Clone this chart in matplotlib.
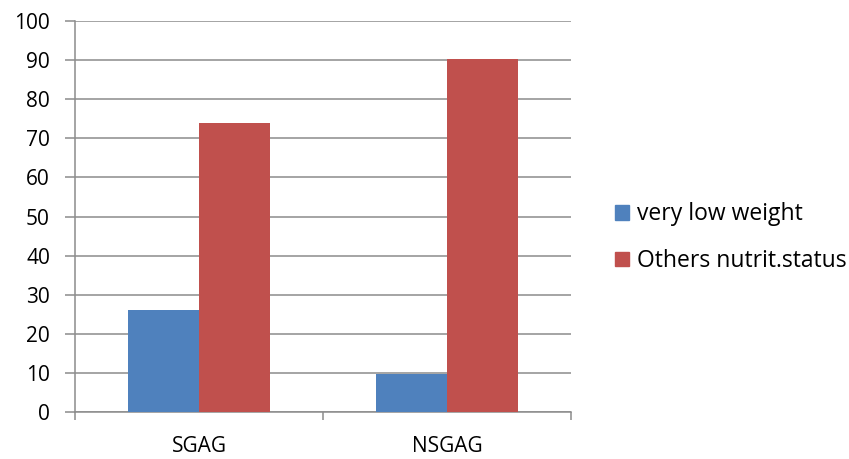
import numpy as np
import matplotlib.pyplot as plt
from matplotlib.patches import Patch

plt.rcParams['font.family'] = ['Open Sans', 'DejaVu Sans']

groups = ['SGAG', 'NSGAG']
very_low = [26.1, 9.7]
others = [73.9, 90.3]
series_names = ['very low weight', 'Others nutrit.status']
colors = ['#4F81BD', '#C0504D']

fig = plt.figure(figsize=(8.49, 4.59), dpi=100)
ax = fig.add_axes([0.0883, 0.1024, 0.5843, 0.8516])

x = np.arange(len(groups))
w = 1 / 3.5
ax.bar(x - w / 2, very_low, w, color=colors[0], zorder=3)
ax.bar(x + w / 2, others, w, color=colors[1], zorder=3)

ax.set_xlim(-0.5, len(groups) - 0.5)
ax.set_ylim(0, 100)
ax.set_yticks(range(0, 101, 10))
ax.yaxis.grid(True, color='#8c8c8c', linewidth=1.1, zorder=0)

# category labels sit between boundary ticks
ax.set_xticks(x)
ax.set_xticklabels(groups)
ax.set_xticks(np.arange(-0.5, len(groups)), minor=True)
ax.tick_params(axis='x', which='major', length=0, pad=17, labelsize=15)
ax.tick_params(axis='x', which='minor', length=6, color='#8c8c8c', width=1.1)
ax.tick_params(axis='y', length=7, color='#8c8c8c', width=1.1, pad=11, labelsize=15)

for s in ['top', 'right']:
    ax.spines[s].set_visible(False)
for s in ['left', 'bottom']:
    ax.spines[s].set_color('#8c8c8c')
    ax.spines[s].set_linewidth(1.1)

handles = [Patch(color=c) for c in colors]
fig.legend(handles, series_names, loc='center left', bbox_to_anchor=(0.7, 0.482),
           frameon=False, fontsize=16.5, handlelength=0.6, handleheight=0.6,
           handletextpad=0.35, labelspacing=1.0)

fig.savefig('out.png', dpi=100)
